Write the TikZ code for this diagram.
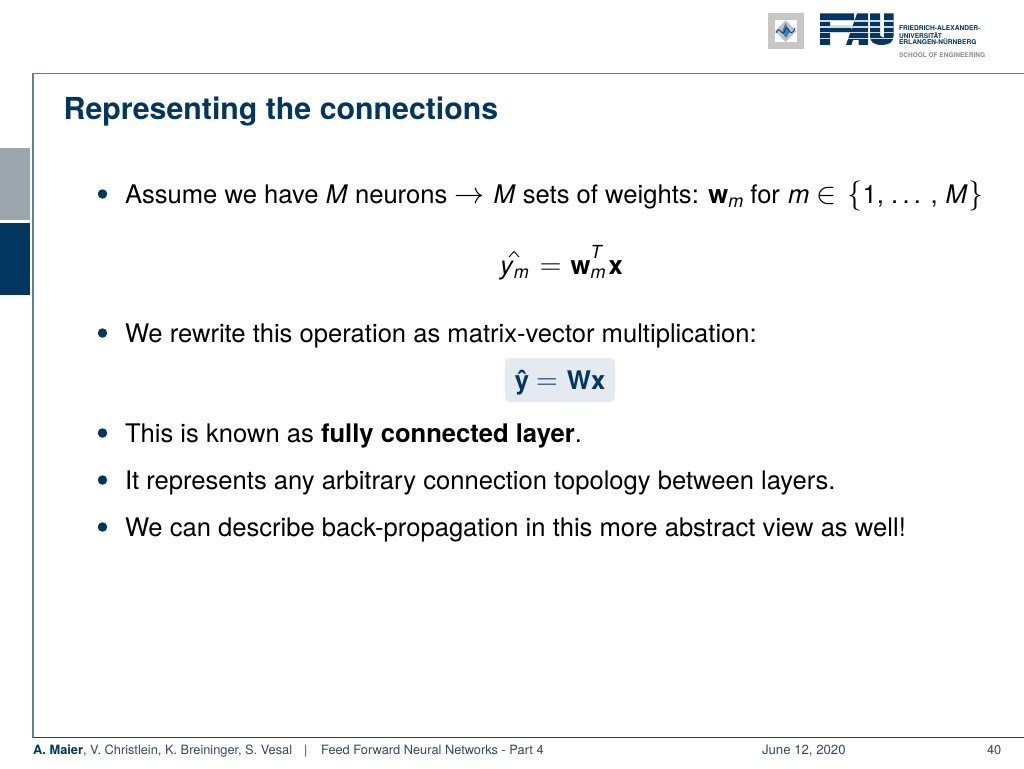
\RequirePackage{fix-cm}
\documentclass[tikz,border=0pt]{standalone}
\usepackage{fontspec}
\setmainfont{TeX Gyre Heros}
\definecolor{faublue}{HTML}{003660}
\definecolor{framec}{HTML}{5F7F98}
\definecolor{navgray}{HTML}{9BA5AE}
\definecolor{boxfill}{HTML}{E4EAF0}
\definecolor{foot}{HTML}{2F4A60}
\newcommand{\bodyfs}{\fontsize{25.6}{30}\selectfont}
\newcommand{\subfs}{\fontsize{18}{21}\selectfont}
\tikzset{
  x=1pt,y=-1pt,
  bodytext/.style={anchor=base west,inner sep=0,outer sep=0,font=\bodyfs,text=black},
  bulletdot/.style={circle,fill=faublue,draw=none,minimum size=9.5pt,inner sep=0},
  foottext/.style={anchor=base west,inner sep=0,outer sep=0,font=\fontsize{12.8}{15}\selectfont,text=foot},
  logotext/.style={anchor=base west,inner sep=0,outer sep=0,font=\bfseries\fontsize{6.6}{8}\selectfont,text=faublue},
}
\newcommand{\mi}[1]{\textit{#1}}
\newcommand{\smi}[1]{\raisebox{-4.5pt}{\subfs\textit{#1}}}
\newcommand{\msy}[1]{{\fontsize{30}{34}\selectfont$#1$}}
\begin{document}
\begin{tikzpicture}
\useasboundingbox (0,0) rectangle (1024,768);
\fill[white] (0,0) rectangle (1024,768);
% frame
\draw[framec,line width=1.4pt] (33,737.5) -- (33,73.5) -- (1024,73.5);
\draw[faublue!80!framec,line width=1.4pt] (33,737.5) -- (1024,737.5);
% side navigation
\fill[navgray] (0,148) rectangle (29.5,220);
\fill[faublue] (0,222.5) rectangle (29.5,295);
% title
\node[anchor=base west,inner sep=0,font=\bfseries\fontsize{30.3}{34}\selectfont,text=faublue] (title) at (63.5,119) {Representing the connections};
% icon
\fill[black!22] (768,13.5) rectangle (803.5,49);
\fill[white] (774.5,20) rectangle (797,42.5);
\fill[black!25] (785.7,20.5) -- (796.5,31) -- (785.7,42) -- (775,31) -- cycle;
\fill[blue!45!cyan!70!black!80] (785.5,23) -- (789.5,32) -- (786,38) -- (782,32) -- cycle;
\draw[faublue,line width=.8pt] (776,33) .. controls (780,23) and (782,40) .. (785,30) .. controls (788,22) and (790,41) .. (795,28);
% FAU logo
\begin{scope}
\clip
  (820,13.5) -- (854,13.5) -- (854,21) -- (830,21) -- (830,26) -- (851,26) -- (851,33) -- (830,33) -- (830,45) -- (820,45) -- cycle
  (846,45) -- (857,13.5) -- (868,13.5) -- (868,45) -- (858.5,45) -- (858.5,40) -- (853,40) -- (851.5,45) -- cycle
  (870,13.5) -- (880,13.5) -- (880,34) .. controls (880,37.5) and (883,37.5) .. (884,37.5) -- (884,13.5) -- (893.5,13.5) -- (893.5,36) .. controls (893.5,42) and (889,45) .. (882,45) .. controls (874,45) and (870,42) .. (870,36) -- cycle;
\fill[faublue] (815,10) rectangle (897,48);
\foreach \yy in {20.3,26.1,31.9,37.7}{
  \fill[white!70!framec] (815,\yy) rectangle (897,\yy+1.5);
}
\end{scope}
\node[logotext] (l1) at (899,31) {FRIEDRICH-ALEXANDER-};
\node[logotext] (l2) at (899,38) {UNIVERSITÄT};
\node[logotext] (l3) at (899,45) {ERLANGEN-NÜRNBERG};
\node[logotext,text=black!45,font=\bfseries\fontsize{6.5}{8}\selectfont] (l4) at (899,57) {SCHOOL OF ENGINEERING};
% bullets
\node[bulletdot] (b1) at (102.5,194) {};
\node[bulletdot] (b2) at (102.5,333) {};
\node[bulletdot] (b3) at (102.5,433) {};
\node[bulletdot] (b4) at (102.5,480) {};
\node[bulletdot] (b5) at (102.5,527) {};
% body
\node[bodytext] (t1) at (125,203) {Assume we have \mi{M} neurons \msy{\rightarrow}\kern2pt\ \mi{M} sets of weights: \textbf{w}\smi{m} for\kern1pt\ \mi{m} \msy{\in}\kern4pt\ \msy{\{}1, .\,.\,. ,\kern1pt\ \mi{M}\kern1pt\msy{\}}};
\node[bodytext] (e1) at (500,274) {\mi{y}\smi{m}\kern4pt\ \msy{=}\kern2pt\ \textbf{w}\rlap{\raisebox{16pt}{\subfs\textit{T}}}\smi{m}\kern3pt\textbf{x}};
\draw[black,line width=0.9pt] (509,257) -- (514,251.5) -- (519,257);
\node[bodytext] (t2) at (125,342) {We rewrite this operation as matrix-vector multiplication:};
\node[anchor=base,fill=boxfill,rounded corners=5pt,inner xsep=10pt,inner ysep=0pt,text=faublue,font=\bfseries\bodyfs,text depth=12.5pt,text height=31.5pt] (e2) at (560,389.5) {\^{y} \msy{=}\kern2pt\ Wx};
\node[bodytext] (t3) at (125,442) {This is known as \textbf{fully connected layer}.};
\node[bodytext] (t4) at (125,489) {It represents any arbitrary connection topology between layers.};
\node[bodytext] (t5) at (125,536) {We can describe back-propagation in this more abstract view as well!};
% footer
\node[foottext] (f1) at (33,754) {\textbf{\textcolor{faublue}{A. Maier}}, V. Christlein, K. Breininger, S. Vesal};
\node[foottext] (fb) at (304,754) {|};
\node[foottext] (fc) at (321,754) {Feed Forward Neural Networks - Part 4};
\node[foottext,font=\fontsize{13.2}{15}\selectfont] (f2) at (762,754) {June 12, 2020};
\node[foottext] (f3) at (987,754) {40};
\end{tikzpicture}
\end{document}
